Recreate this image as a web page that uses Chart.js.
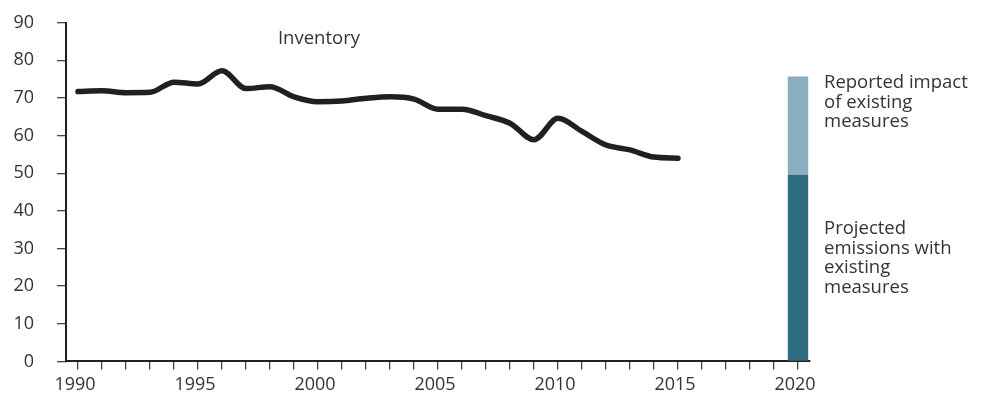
<!DOCTYPE html>
<html>
<head>
<meta charset="utf-8">
<script src="https://cdn.jsdelivr.net/npm/chart.js@4/dist/chart.umd.min.js"></script>
<style>
  html, body { margin: 0; padding: 0; background: #ffffff; }
  #wrap { width: 983px; height: 396px; }
</style>
</head>
<body>
<div id="wrap"><canvas id="chart" width="983" height="396"></canvas></div>
<script>
// Greenhouse gas inventory (1990-2015) and 2020 projection
const inventoryYears = [1990, 1991, 1992, 1993, 1994, 1995, 1996, 1997, 1998, 1999,
  2000, 2001, 2002, 2003, 2004, 2005, 2006, 2007, 2008, 2009,
  2010, 2011, 2012, 2013, 2014, 2015];
const inventoryValues = [71.7, 71.9, 71.4, 71.5, 74.2, 73.7, 77.2, 72.5, 73.0, 70.3,
  69.0, 69.2, 69.9, 70.3, 69.7, 67.0, 67.0, 65.3, 63.3, 58.9,
  64.6, 61.1, 57.5, 56.2, 54.3, 54.0];
const projectionYear = 2020;
const projectedWithMeasures = 49.6;
const impactOfMeasures = 26.1;
const axisYears = [1990, 2021];
const yTicks = [0, 90, 10];

const inventoryLabel = 'Inventory';
const impactLabel = ['Reported impact', 'of existing', 'measures'];
const projectedLabel = ['Projected', 'emissions with', 'existing', 'measures'];

const FONT = "'Open Sans', 'Noto Sans', sans-serif";
const TEXT = '#333333';
const AXIS = '#231f20';

// each year occupies a one-year band; values sit in the middle of their band
const mid = y => y + 0.5;

const annotations = {
  id: 'annotations',
  afterDraw(chart) {
    const { ctx, scales: { x, y } } = chart;
    ctx.save();
    ctx.fillStyle = TEXT;
    ctx.font = `18.5px ${FONT}`;
    ctx.textAlign = 'left';
    ctx.textBaseline = 'alphabetic';
    ctx.fillText(inventoryLabel, x.getPixelForValue(1998.83), y.getPixelForValue(84.3));
    const lx = x.right + 14;
    const lh = 19.5;
    const topY = y.getPixelForValue(projectedWithMeasures + impactOfMeasures) + 11.5;
    impactLabel.forEach((t, i) => ctx.fillText(t, lx, topY + i * lh));
    const midY = y.getPixelForValue(projectedWithMeasures) + 59.5;
    projectedLabel.forEach((t, i) => ctx.fillText(t, lx, midY + i * lh));
    ctx.restore();
  }
};

new Chart(document.getElementById('chart'), {
  type: 'bar',
  data: {
    datasets: [
      {
        type: 'line',
        label: inventoryLabel,
        data: inventoryYears.map((yr, i) => ({ x: mid(yr), y: inventoryValues[i] })),
        borderColor: '#231f20',
        borderWidth: 5.5,
        borderCapStyle: 'round',
        borderJoinStyle: 'round',
        tension: 0.4,
        cubicInterpolationMode: 'monotone',
        pointRadius: 0,
        fill: false,
        stack: 'inventory'
      },
      {
        label: 'Projected emissions with existing measures',
        data: [{ x: mid(projectionYear), y: projectedWithMeasures }],
        backgroundColor: '#2f6e80',
        categoryPercentage: 1,
        barPercentage: 0.85,
        stack: 'projection'
      },
      {
        label: 'Reported impact of existing measures',
        data: [{ x: mid(projectionYear), y: impactOfMeasures }],
        backgroundColor: '#8aaebf',
        categoryPercentage: 1,
        barPercentage: 0.85,
        stack: 'projection'
      }
    ]
  },
  options: {
    responsive: false,
    animation: false,
    layout: { padding: { left: 13, right: 173, top: 22.7, bottom: -4 } },
    plugins: { legend: { display: false }, tooltip: { enabled: false } },
    scales: {
      x: {
        type: 'linear',
        min: axisYears[0],
        max: axisYears[1],
        offset: false,
        stacked: true,
        border: { display: true, color: AXIS, width: 2 },
        grid: { drawOnChartArea: false, drawTicks: true, tickLength: 8, color: '#444444', lineWidth: 1.3 },
        ticks: {
          stepSize: 1,
          maxTicksLimit: 100,
          autoSkip: false,
          maxRotation: 0,
          labelOffset: 9,
          padding: 4.5,
          color: TEXT,
          font: { family: FONT, size: 18 },
          callback: v => (v % 5 === 0 ? String(v) : '')
        }
      },
      y: {
        min: yTicks[0],
        max: yTicks[1],
        stacked: true,
        border: { display: true, color: AXIS, width: 2 },
        grid: { drawOnChartArea: false, drawTicks: true, tickLength: 9, color: '#444444', lineWidth: 1.3 },
        afterFit: scale => {
          scale.width = 53;
          scale.paddingTop = 0;
          scale.paddingBottom = 0;
        },
        ticks: {
          stepSize: yTicks[2],
          padding: 23,
          color: TEXT,
          font: { family: FONT, size: 18 }
        }
      }
    }
  },
  plugins: [annotations]
});
</script>
</body>
</html>
